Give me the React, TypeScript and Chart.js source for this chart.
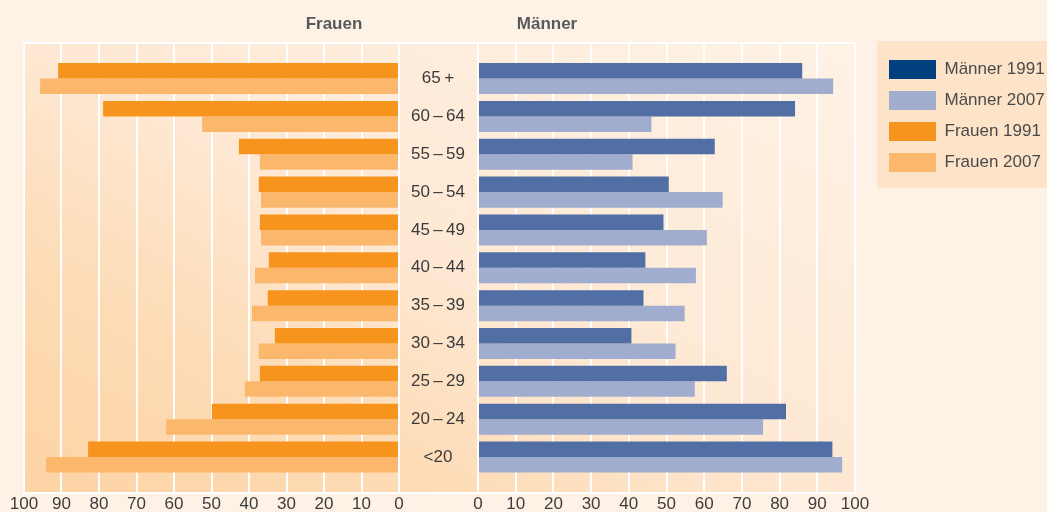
import React, { useEffect, useRef } from 'react';
import { Chart, registerables } from 'chart.js';
Chart.register(...registerables);

const FONT = '"Liberation Sans Narrow", "Liberation Sans", Arial, sans-serif';

// Age groups, top to bottom
const ageGroups = ['65\u2009+', '60\u2009\u2013\u200964', '55\u2009\u2013\u200959', '50\u2009\u2013\u200954', '45\u2009\u2013\u200949', '40\u2009\u2013\u200944', '35\u2009\u2013\u200939', '30\u2009\u2013\u200934', '25\u2009\u2013\u200929', '20\u2009\u2013\u200924', '<20'];
const frauen1991 = [90.9, 78.9, 42.7, 37.4, 37.1, 34.7, 35.0, 33.1, 37.1, 49.9, 82.9];
const frauen2007 = [95.7, 52.5, 37.1, 36.8, 36.8, 38.4, 39.2, 37.4, 41.1, 62.1, 94.1];
const maenner1991 = [86.0, 84.1, 62.8, 50.6, 49.2, 44.4, 43.9, 40.7, 66.0, 81.7, 94.0];
const maenner2007 = [94.2, 46.0, 41.0, 64.9, 60.7, 57.8, 54.8, 52.4, 57.5, 75.6, 96.6];
const legendLabels = ['Männer 1991', 'Männer 2007', 'Frauen 1991', 'Frauen 2007'];
const legendColors = ['#00407F', '#A0ADCF', '#F7941D', '#FBB76C'];
const panelTitles = ['Frauen', 'Männer'];

const toPoints = (arr: number[]) => arr.map((v, i) => ({ x: v, y: i }));

const makeBg = (offsetX: number, middle: boolean) => ({
  id: 'panelBg' + offsetX,
  beforeDraw(chart: any) {
    const { ctx, chartArea: a } = chart;
    const g = ctx.createLinearGradient(24 - offsetX, 493, 401 - offsetX, -203);
    g.addColorStop(0, '#FDD3A4');
    g.addColorStop(0.27, '#FDDCB7');
    g.addColorStop(0.5, '#FEE8D3');
    g.addColorStop(1, '#FEF2E6');
    ctx.save();
    ctx.fillStyle = g;
    const x0 = middle ? 0 : a.left;
    ctx.fillRect(x0, a.top, a.right - x0, a.bottom - a.top);
    ctx.strokeStyle = '#ffffff';
    ctx.lineWidth = 2;
    ctx.beginPath();
    ctx.moveTo(x0, a.top);
    ctx.lineTo(a.right + 1, a.top);
    ctx.moveTo(x0, a.bottom);
    ctx.lineTo(a.right + 1, a.bottom);
    ctx.stroke();
    if (chart.legend && chart.options.plugins.legend.display) {
      const lg = chart.legend;
      ctx.fillStyle = '#FDE4C9';
      ctx.fillRect(lg.left, 41, chart.width - lg.left, 147);
    }
    ctx.restore();
  },
});

const legendFix = {
  id: 'legendFix',
  beforeLayout(chart: any) {
    const lg = chart.legend;
    if (lg && !lg.__patched) {
      const orig = lg.fit.bind(lg);
      lg.fit = function () {
        orig();
        this.width = 170;
      };
      lg.__patched = true;
    }
  },
  afterLayout(chart: any) {
    const lg = chart.legend;
    if (lg) {
      lg.left += 22;
      lg.right += 22;
      lg.top += 5;
      lg.bottom += 5;
    }
  },
};

const tickFont = { size: 17, family: FONT };
const CANVAS_H = 517;
const setIndexTicks = (s: any) => {
  s.ticks = ageGroups.map((_, i) => ({ value: i }));
};

export default function App() {
  const leftRef = useRef<HTMLCanvasElement>(null);
  const rightRef = useRef<HTMLCanvasElement>(null);

  useEffect(() => {
    Chart.defaults.font.family = FONT;
    const yCommon = {
      type: 'linear' as const,
      reverse: true,
      offset: false,
      bounds: 'data' as const,
      min: -0.94,
      max: 10.95,
      afterBuildTicks: setIndexTicks,
    };
    const xTicks = { stepSize: 10, padding: 1, font: tickFont, color: '#3d3d3d', maxRotation: 0, autoSkip: false };
    const left = new Chart(leftRef.current!, {
      type: 'bar',
      data: {
        datasets: [
          { label: 'Frauen 1991', data: toPoints(frauen1991), backgroundColor: '#F7941D', categoryPercentage: 0.82, barPercentage: 1 },
          { label: 'Frauen 2007', data: toPoints(frauen2007), backgroundColor: '#FBB76C', categoryPercentage: 0.82, barPercentage: 1 },
        ],
      },
      options: {
        indexAxis: 'y',
        animation: false,
        responsive: false,
        events: [],
        layout: { padding: { left: 24, right: 21, top: 43, bottom: 0 } },
        plugins: { legend: { display: false }, tooltip: { enabled: false } },
        scales: {
          x: {
            type: 'linear',
            reverse: true,
            min: 0,
            max: 100,
            grid: { color: '#ffffff', lineWidth: 2, drawTicks: false },
            border: { color: '#ffffff', width: 2 },
            ticks: xTicks,
            afterFit: (s: any) => { s.height = 24; },
          },
          y: {
            ...yCommon,
            display: false,
          },
        },
      },
      plugins: [makeBg(0, false)],
    } as any);

    const right = new Chart(rightRef.current!, {
      type: 'bar',
      data: {
        datasets: [
          { label: 'Männer 1991', data: toPoints(maenner1991), backgroundColor: '#516EA5', categoryPercentage: 0.82, barPercentage: 1 },
          { label: 'Männer 2007', data: toPoints(maenner2007), backgroundColor: '#A0ADCF', categoryPercentage: 0.82, barPercentage: 1 },
        ],
      },
      options: {
        indexAxis: 'y',
        animation: false,
        responsive: false,
        events: [],
        layout: { padding: { left: 0, right: 22, top: 43, bottom: 0 } },
        plugins: {
          tooltip: { enabled: false },
          legend: {
            display: true,
            position: 'right',
            align: 'start',
            onClick: () => {},
            labels: {
              boxWidth: 47,
              boxHeight: 19,
              padding: 12,
              color: '#4a4a4a',
              font: { size: 17, family: FONT },
              generateLabels: () =>
                legendLabels.map((t, i) => ({
                  text: t,
                  fillStyle: legendColors[i],
                  strokeStyle: legendColors[i],
                  lineWidth: 0,
                  hidden: false,
                  fontColor: '#4a4a4a',
                })),
            },
          },
        },
        scales: {
          x: {
            type: 'linear',
            min: 0,
            max: 100,
            grid: { color: '#ffffff', lineWidth: 2, drawTicks: false },
            border: { color: '#ffffff', width: 2 },
            ticks: xTicks,
            afterFit: (s: any) => { s.height = 24; },
          },
          y: {
            ...yCommon,
            position: 'left',
            grid: { display: false, drawTicks: false },
            border: { display: true, color: '#ffffff', width: 2 },
            ticks: {
              autoSkip: false,
              crossAlign: 'center',
              padding: 13,
              font: tickFont,
              color: '#3a3a3a',
              callback: (v: any) => ageGroups[v] ?? '',
            },
            afterFit: (s: any) => { s.width = 78; },
          },
        },
      },
      plugins: [makeBg(400, true), legendFix],
    } as any);

    return () => {
      left.destroy();
      right.destroy();
    };
  }, []);

  const titleStyle: React.CSSProperties = {
    position: 'absolute',
    top: 15,
    width: 200,
    textAlign: 'center',
    fontFamily: FONT,
    fontWeight: 'bold',
    fontSize: 17,
    lineHeight: '17px',
    color: '#58595B',
  };

  return (
    <div style={{ position: 'fixed', left: 0, top: 0, width: 1047, height: 512, overflow: 'hidden', background: '#FEF2E6' }}>
      <canvas ref={leftRef} width={420} height={CANVAS_H} style={{ position: 'absolute', left: 0, top: 0, width: 420, height: CANVAS_H }} />
      <canvas ref={rightRef} width={647} height={CANVAS_H} style={{ position: 'absolute', left: 400, top: 0, width: 647, height: CANVAS_H }} />
      <div style={{ ...titleStyle, left: 234 }}>{panelTitles[0]}</div>
      <div style={{ ...titleStyle, left: 447 }}>{panelTitles[1]}</div>
    </div>
  );
}
